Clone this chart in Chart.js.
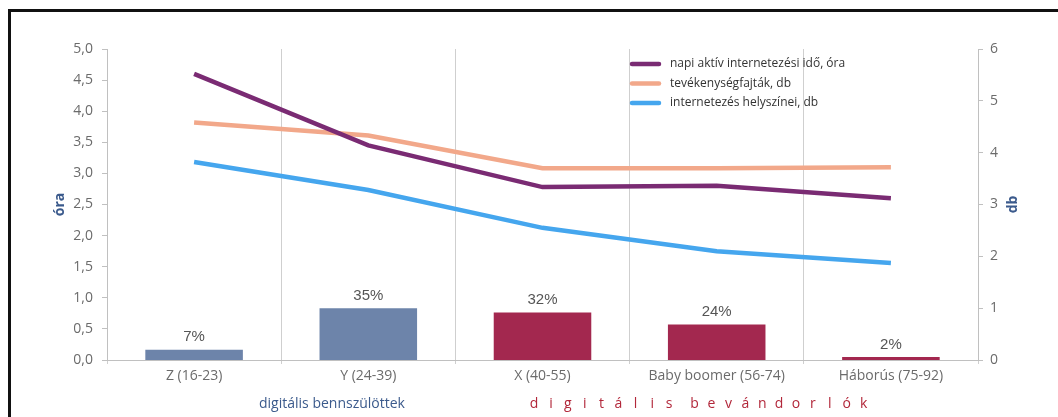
<!DOCTYPE html>
<html>
<head>
<meta charset="utf-8">
<script src="https://cdn.jsdelivr.net/npm/chart.js@4"></script>
<style>
    html, body { margin: 0; padding: 0; background: #fff; }
    #wrap { position: relative; width: 1058px; height: 417px; overflow: hidden; }
    #frame {
        position: absolute; left: 8px; top: 9px; right: -10px; bottom: -10px;
        border-top: 3px solid #111; border-left: 3px solid #111;
    }
    canvas { position: absolute; left: 0; top: 0; }
</style>
</head>
<body>
<div id="wrap">
    <div id="frame"></div>
    <canvas id="chart" width="1058" height="417"></canvas>
</div>
<script>
// generations on the x axis
const CATEGORIES = ["Z (16-23)", "Y (24-39)", "X (40-55)", "Baby boomer (56-74)", "Háborús (75-92)"];

// line series
const HOURS_ONLINE = [4.6, 3.45, 2.78, 2.8, 2.6];       // left axis, óra
const ACTIVITY_TYPES = [4.58, 4.33, 3.7, 3.7, 3.72];    // right axis, db
const PLACES = [3.82, 3.28, 2.55, 2.1, 1.87];           // right axis, db

// share of population per generation, bars
const SHARE_PCT = [7, 35, 32, 24, 2];

const LEFT_TICKS = [0, 0.5, 1, 1.5, 2, 2.5, 3, 3.5, 4, 4.5, 5];
const RIGHT_TICKS = [0, 1, 2, 3, 4, 5, 6];

const LABELS = {
    hours: "napi aktív internetezési idő, óra",
    types: "tevékenységfajták, db",
    places: "internetezés helyszínei, db",
};

const COLORS = {
    hours: "#7a2b73",
    types: "#f2a88a",
    places: "#45a6ee",
    barNative: "#6d84aa",
    barImmigrant: "#a3284f",
    tick: "#6b6b6b",
    axis: "#c0c0c0",
    title: "#3b5a8c",
    immigrant: "#b2273a",
};

const FONT = "'Open Sans', 'DejaVu Sans', sans-serif";

// percent labels above bars
const barLabels = {
    id: "barLabels",
    afterDatasetsDraw(chart) {
        const meta = chart.getDatasetMeta(3);
        const ctx = chart.ctx;
        ctx.save();
        ctx.font = "15px 'Liberation Sans', Arial, sans-serif";
        ctx.fillStyle = "#555";
        ctx.textAlign = "center";
        ctx.textBaseline = "bottom";
        meta.data.forEach((bar, i) => {
            ctx.fillText(SHARE_PCT[i] + "%", bar.x, bar.y - 5);
        });
        ctx.restore();
    },
};

// legend inside the plot, top right
const innerLegend = {
    id: "innerLegend",
    afterDraw(chart) {
        const ctx = chart.ctx;
        const x = 632;
        const rows = [
            [LABELS.hours, COLORS.hours],
            [LABELS.types, COLORS.types],
            [LABELS.places, COLORS.places],
        ];
        ctx.save();
        ctx.font = "12px " + FONT;
        ctx.textBaseline = "middle";
        rows.forEach(([text, color], i) => {
            const y = 64 + i * 19.5;
            ctx.strokeStyle = color;
            ctx.lineWidth = 4.5;
            ctx.lineCap = "round";
            ctx.beginPath();
            ctx.moveTo(x, y);
            ctx.lineTo(x + 27, y);
            ctx.stroke();
            ctx.fillStyle = "#333";
            ctx.fillText(text, x + 38, y);
        });
        ctx.restore();
    },
};

// axis titles and second row under the x axis
const extraLabels = {
    id: "extraLabels",
    afterDraw(chart) {
        const ctx = chart.ctx;
        const midY = (chart.chartArea.top + chart.chartArea.bottom) / 2;
        ctx.save();
        ctx.textBaseline = "middle";
        ctx.textAlign = "center";

        ctx.font = "bold 14px " + FONT;
        ctx.fillStyle = COLORS.title;
        [[60, "óra"], [1013, "db"]].forEach(([x, text]) => {
            ctx.save();
            ctx.translate(x, midY);
            ctx.rotate(-Math.PI / 2);
            ctx.fillText(text, 0, 0);
            ctx.restore();
        });

        ctx.font = "14px " + FONT;
        ctx.fillText("digitális bennszülöttek", 332, 404);

        ctx.fillStyle = COLORS.immigrant;
        const text = "digitális bevándorlók";
        let cx = 534;
        for (const ch of text) {
            if (ch === " ") { cx += 8.5; continue; }
            ctx.fillText(ch, cx, 404);
            cx += 16.9;
        }
        ctx.restore();
    },
};

new Chart(document.getElementById("chart"), {
    data: {
        labels: CATEGORIES,
        datasets: [
            {
                type: "line", label: LABELS.hours, data: HOURS_ONLINE, yAxisID: "y",
                borderColor: COLORS.hours, borderWidth: 4.5, pointRadius: 0, tension: 0, order: 1,
            },
            {
                type: "line", label: LABELS.types, data: ACTIVITY_TYPES, yAxisID: "y1",
                borderColor: COLORS.types, borderWidth: 4.5, pointRadius: 0, tension: 0, order: 2,
            },
            {
                type: "line", label: LABELS.places, data: PLACES, yAxisID: "y1",
                borderColor: COLORS.places, borderWidth: 4.5, pointRadius: 0, tension: 0, order: 3,
            },
            {
                type: "bar", label: "arány", data: SHARE_PCT, yAxisID: "yBar",
                backgroundColor: SHARE_PCT.map((v, i) => (i < 2 ? COLORS.barNative : COLORS.barImmigrant)),
                barPercentage: 0.56, categoryPercentage: 1, order: 4,
            },
        ],
    },
    options: {
        responsive: false,
        animation: false,
        layout: { padding: { top: 49, left: 0, right: 0, bottom: 0 } },
        plugins: { legend: { display: false }, tooltip: { enabled: false } },
        scales: {
            x: {
                offset: true,
                grid: { offset: true, color: "#cfcfcf", lineWidth: 1, tickLength: 4, drawOnChartArea: true },
                border: { color: COLORS.axis },
                ticks: { color: COLORS.tick, font: { family: FONT, size: 14 }, padding: 4, maxRotation: 0 },
                afterFit: (s) => { s.height = 57; },
            },
            y: {
                position: "left", min: 0, max: 5,
                afterBuildTicks: (s) => { s.ticks = LEFT_TICKS.map((v) => ({ value: v })); },
                grid: { drawOnChartArea: false, tickLength: 5, color: COLORS.axis },
                border: { color: COLORS.axis },
                ticks: {
                    color: COLORS.tick, font: { family: FONT, size: 14 }, padding: 9,
                    callback: (v) => v.toFixed(1).replace(".", ","),
                },
                afterFit: (s) => { s.width = 107; },
            },
            y1: {
                position: "right", min: 0, max: 6,
                afterBuildTicks: (s) => { s.ticks = RIGHT_TICKS.map((v) => ({ value: v })); },
                grid: { drawOnChartArea: false, tickLength: 5, color: COLORS.axis },
                border: { color: COLORS.axis },
                ticks: { color: COLORS.tick, font: { family: FONT, size: 14 }, padding: 7 },
                afterFit: (s) => { s.width = 80; },
            },
            yBar: { display: false, min: 0, max: 210 },
        },
    },
    plugins: [barLabels, innerLegend, extraLabels],
});
</script>
</body>
</html>
